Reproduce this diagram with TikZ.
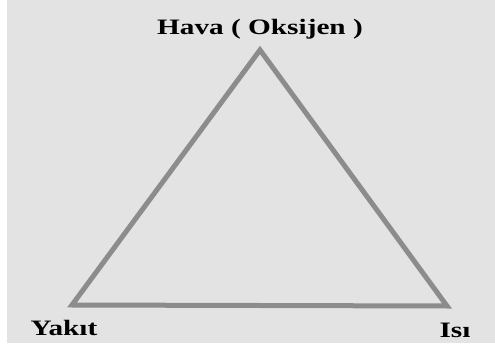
\documentclass[tikz,border=0pt]{standalone}
\usepackage{fontspec}
\setmainfont{Liberation Serif}
\usepackage{graphicx}
\usepackage{xcolor}
\usetikzlibrary{positioning,calc}
\definecolor{bggray}{HTML}{E3E3E3}
\definecolor{edgegray}{HTML}{8C8C8C}
\tikzset{
	side/.style={draw=edgegray, line width=5pt, line join=miter},
	vlabel/.style={anchor=base, inner sep=0pt, font=\fontsize{22}{26}\selectfont\bfseries}
}
\newcommand{\wide}[1]{\scalebox{1.33}[1]{#1}}

\begin{document}
\begin{tikzpicture}[x=1pt,y=1pt]
	
	%% -- Background with white strip on left and bottom
	\fill[white] (0,0) rectangle (495,348);
	\fill[bggray] (7,5) rectangle (495,348);
	\useasboundingbox (0,0) rectangle (495,348);
	
	%% -- The three corners
	\coordinate (hava) at (260,298);
	\coordinate (yakit) at (72,43);
	\coordinate (isi) at (447,42);
	
	\draw[side] (hava) -- (isi) -- (yakit) -- cycle;
	
	%% -- Labels
	\node[vlabel] (lhava) at (260,313) {\wide{Hava ( Oksijen )}};
	\node[vlabel] (lyakit) at (64,13) {\wide{Yakıt}};
	\node[vlabel] (lisi) at (455,11) {\wide{Isı}};
	
\end{tikzpicture}
\end{document}
